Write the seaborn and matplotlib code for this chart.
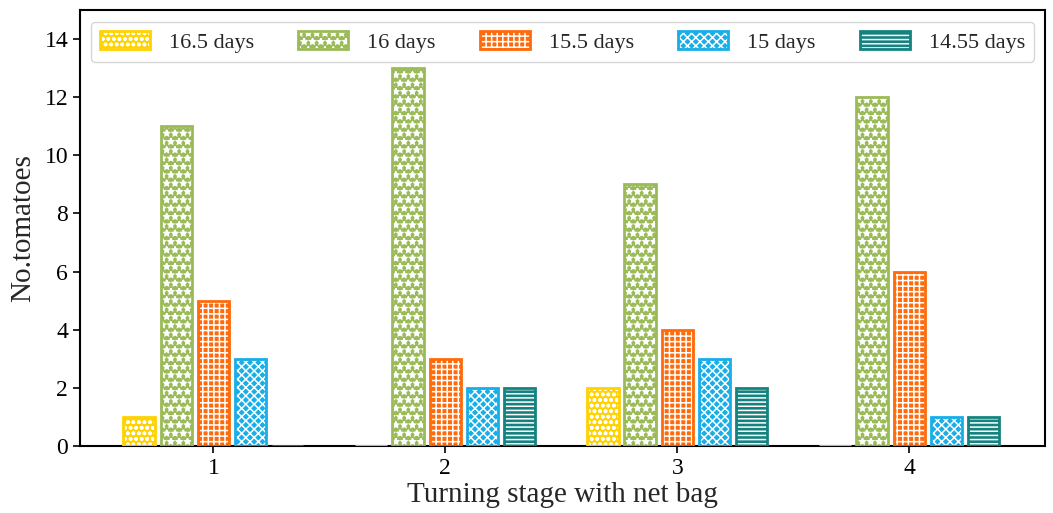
import numpy as np
import pandas as pd
import matplotlib
matplotlib.use("Agg")
import matplotlib.pyplot as plt
import seaborn as sns
from matplotlib.patches import Patch, Rectangle
from matplotlib.legend_handler import HandlerTuple

stages = ["1", "2", "3", "4"]
groups = ["16.5 days", "16 days", "15.5 days", "15 days", "14.55 days"]
v_165 = [1, 0, 2, 0]
v_16 = [11, 13, 9, 12]
v_155 = [5, 3, 4, 6]
v_15 = [3, 2, 3, 1]
v_1455 = [0, 2, 2, 1]
yticks = [0, 2, 4, 6, 8, 10, 12, 14]

colors = ["#FFD200", "#9BBB59", "#FF6A0A", "#18AEE8", "#14837F"]
hatches = ["ooo", "**", "+++", "xxxx", "----"]

series = [v_165, v_16, v_155, v_15, v_1455]
rows = []
for g, vals in zip(groups, series):
    for s, v in zip(stages, vals):
        rows.append({"stage": s, "group": g, "count": v})
df = pd.DataFrame(rows)

sns.set_theme(style="ticks")
plt.rcParams["font.family"] = ["Liberation Serif", "DejaVu Serif"]
plt.rcParams["hatch.linewidth"] = 1.1

fig, ax = plt.subplots(figsize=(10.53, 5.13), dpi=100)
fig.subplots_adjust(left=0.076, right=0.9924, bottom=0.1306, top=0.9805)

sns.barplot(data=df, x="stage", y="count", hue="group", order=stages,
            hue_order=groups, palette=colors, saturation=1, width=0.8,
            gap=0.15, errorbar=None, edgecolor="white", linewidth=0,
            legend=False, ax=ax)

lw = 2.0
for i, cont in enumerate(ax.containers):
    for bar in cont:
        bar.set_hatch(hatches[i])
        bar.set_edgecolor("white")
        bar.set_linewidth(0)
        ax.add_patch(Rectangle(bar.get_xy(), bar.get_width(), bar.get_height(),
                               fill=False, edgecolor=colors[i], lw=lw, zorder=3))

ax.set_xlim(-0.575, 3.585)
ax.set_ylim(0, 15)
ax.set_yticks(yticks)
ax.set_xlabel("Turning stage with net bag", fontsize=21, labelpad=2)
ax.set_ylabel("No.tomatoes", fontsize=21, labelpad=6)
ax.tick_params(axis="both", labelsize=17, direction="out", length=5, width=1.2,
               color="black", labelcolor="black")
for sp in ax.spines.values():
    sp.set_visible(True)
    sp.set_color("black")
    sp.set_linewidth(1.5)

handles = [(Patch(facecolor=c, edgecolor="white", hatch=h, lw=0),
            Patch(facecolor="none", edgecolor=c, lw=lw))
           for c, h in zip(colors, hatches)]
ax.legend(handles, groups, handler_map={tuple: HandlerTuple(ndivide=1)},
          loc="upper center", bbox_to_anchor=(0.5, 0.9725), ncol=5,
          fontsize=16, handlelength=2.25, handleheight=0.9,
          handletextpad=0.85, columnspacing=2.0, borderaxespad=0,
          frameon=True)

fig.savefig("out.png", dpi=100)
